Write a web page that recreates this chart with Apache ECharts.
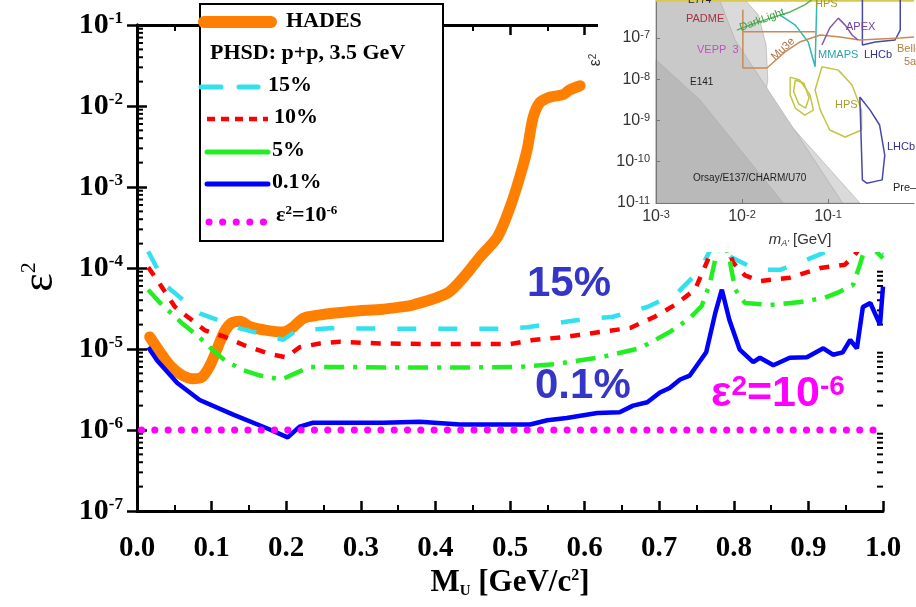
<!DOCTYPE html>
<html>
<head>
<meta charset="utf-8">
<script src="https://cdn.jsdelivr.net/npm/echarts@6/dist/echarts.min.js"></script>
<style>
html,body{margin:0;padding:0;background:#fff}
#main{width:916px;height:607px}
</style>
</head>
<body>
<div id="main"></div>
<script>
// HADES upper limit and PHSD p+p 3.5 GeV curves (M_U in GeV/c2, eps^2)
var hadesMass = [0.017,0.031,0.044,0.058,0.074,0.087,0.098,0.107,0.117,0.127,0.138,0.151,0.174,0.196,0.209,0.223,0.241,0.286,0.330,0.353,0.370,0.416,0.440,0.460,0.483,0.500,0.513,0.523,0.531,0.540,0.554,0.571,0.580,0.594];
var hadesEps  = [1.41e-5,9.1e-6,6.3e-6,4.9e-6,4.3e-6,4.5e-6,6.3e-6,9.8e-6,1.62e-5,2.1e-5,2.2e-5,1.9e-5,1.7e-5,1.62e-5,1.86e-5,2.4e-5,2.6e-5,2.9e-5,3.1e-5,3.3e-5,3.5e-5,4.9e-5,8.1e-5,1.38e-4,2.4e-4,5.6e-4,1.32e-3,2.9e-3,7.2e-3,1.1e-2,1.29e-2,1.38e-2,1.58e-2,1.78e-2];

var p15Mass = [0.015,0.040,0.084,0.138,0.196,0.214,0.259,0.353,0.433,0.496,0.523,0.594,0.638,0.684,0.725,0.755,0.775,0.788,0.795,0.831,0.862,0.889,0.929,0.969,1.0];
var p15Eps  = [1.6e-4,5.9e-5,2.75e-5,1.8e-5,1.3e-5,1.7e-5,1.8e-5,1.78e-5,1.78e-5,1.78e-5,1.86e-5,2.3e-5,2.5e-5,3.3e-5,5.0e-5,9.5e-5,2.2e-4,3.9e-4,1.38e-4,9.5e-5,9.5e-5,1.17e-4,1.66e-4,2.2e-4,1.45e-4];

var p10Mass = [0.015,0.027,0.051,0.091,0.118,0.143,0.178,0.200,0.218,0.245,0.272,0.326,0.406,0.500,0.531,0.574,0.621,0.661,0.694,0.721,0.748,0.768,0.782,0.799,0.815,0.835,0.875,0.916,0.949,0.962,0.976,0.996];
var p10Eps  = [1.02e-4,7.1e-5,3.3e-5,1.7e-5,1.41e-5,1.12e-5,8.7e-6,7.9e-6,1.05e-5,1.17e-5,1.23e-5,1.17e-5,1.15e-5,1.15e-5,1.29e-5,1.41e-5,1.62e-5,1.82e-5,2.5e-5,3.5e-5,5.4e-5,1.45e-4,3.4e-4,1.17e-4,8.1e-5,6.9e-5,7.6e-5,1.0e-4,1.1e-4,1.45e-4,2.2e-4,1.45e-4];

var p5Mass = [0.015,0.031,0.060,0.083,0.101,0.118,0.142,0.165,0.194,0.212,0.232,0.286,0.353,0.433,0.513,0.560,0.621,0.674,0.714,0.741,0.757,0.768,0.775,0.784,0.795,0.802,0.815,0.849,0.889,0.922,0.940,0.960,0.969,0.977,0.989,1.0];
var p5Eps  = [5.4e-5,3.7e-5,2.1e-5,1.41e-5,9.8e-6,7.2e-6,5.5e-6,4.7e-6,4.2e-6,5.0e-6,6.0e-6,6.0e-6,5.9e-6,5.9e-6,6.0e-6,6.5e-6,7.9e-6,1.02e-5,1.62e-5,2.4e-5,3.4e-5,6.5e-5,1.26e-4,2.95e-4,1.17e-4,5.4e-5,3.7e-5,3.5e-5,3.8e-5,4.3e-5,5.0e-5,6.2e-5,1.1e-4,1.9e-4,1.66e-4,1.32e-4];

var p01Mass = [0.015,0.027,0.054,0.084,0.129,0.174,0.202,0.218,0.236,0.286,0.330,0.379,0.433,0.487,0.527,0.550,0.576,0.617,0.647,0.665,0.684,0.701,0.714,0.728,0.741,0.763,0.775,0.784,0.794,0.808,0.826,0.835,0.853,0.875,0.898,0.920,0.933,0.946,0.956,0.965,0.973,0.983,0.996,1.0];
var p01Eps  = [1.05e-5,7.2e-6,3.8e-6,2.35e-6,1.55e-6,1.05e-6,8.1e-7,1.1e-6,1.23e-6,1.23e-6,1.23e-6,1.26e-6,1.17e-6,1.17e-6,1.17e-6,1.32e-6,1.41e-6,1.62e-6,1.66e-6,2.0e-6,2.2e-6,2.9e-6,3.3e-6,4.2e-6,4.7e-6,9.1e-6,2.75e-5,5.4e-5,2.3e-5,9.8e-6,6.9e-6,7.8e-6,6.3e-6,7.8e-6,7.9e-6,1.02e-5,8.5e-6,9.1e-6,1.29e-5,1.02e-5,3.3e-5,3.7e-5,2.0e-5,5.9e-5];

var limitMass = [0.006, 1.0];
var limitEps  = [1e-6, 1e-6];

// minor ticks of the log axis: 2..9 x 10^n
var minorDecades = [-7,-6,-5,-4,-3,-2];
var minorSteps = [2,3,4,5,6,7,8,9];

// inset (dark photon exclusion plot), shapes in [log10 m, log10 eps^2]
var insetGrayLight = [[-3,-6.08],[-1.965,-6.08],[-1.81,-6.44],[-1.72,-7.17],[-1.70,-8.02],[-1.73,-8.43],[-0.63,-11],[-3,-11]];
var insetGrayMid   = [[-3,-6.08],[-2.26,-6.08],[-2.08,-7.05],[-0.83,-11],[-3,-11]];
var insetGrayDark  = [[-3,-7.53],[-2.49,-8.50],[-1.52,-11],[-3,-11]];
var insetHpsBig    = [[-1.07,-7.70],[-0.88,-7.78],[-0.72,-8.14],[-0.61,-8.75],[-0.61,-9.23],[-0.80,-9.40],[-0.98,-9.23],[-1.09,-8.75],[-1.15,-8.26],[-1.07,-7.70]];
var insetHpsSmall  = [[-1.44,-7.95],[-1.33,-8.02],[-1.21,-8.38],[-1.17,-8.75],[-1.27,-8.87],[-1.38,-8.70],[-1.44,-8.38],[-1.44,-7.95]];
var insetHpsInner  = [[-1.38,-8.02],[-1.28,-8.10],[-1.22,-8.45],[-1.26,-8.70],[-1.34,-8.60],[-1.40,-8.30],[-1.38,-8.02]];
var insetLhcbLow   = [[-0.63,-8.43],[-0.60,-10.44],[-0.55,-10.52],[-0.37,-10.44],[-0.34,-9.84],[-0.40,-9.11],[-0.51,-8.75],[-0.63,-8.43]];
var insetLhcbHigh  = [[-0.60,-6.08],[-0.60,-7.17],[-0.45,-7.10],[-0.22,-7.05],[-0.16,-6.81],[-0.16,-6.08]];
var insetMmaps     = [[-1.56,-6.44],[-1.38,-6.69],[-1.23,-7.10],[-1.15,-7.70],[-1.13,-6.08]];
var insetMu3e      = [[-1.99,-6.32],[-1.99,-7.73],[-1.71,-7.73],[-1.50,-7.34],[-1.33,-7.10],[-1.09,-6.93],[-0.86,-6.98],[-0.63,-7.05],[-0.16,-7.00],[0,-6.98]];
var insetMu3eTop   = [[-1.99,-6.85],[-1.15,-6.85]];
var insetDarkLight = [[-2.06,-6.81],[-1.91,-6.69],[-1.67,-6.52],[-1.44,-6.37],[-1.27,-6.20],[-1.19,-6.08]];
var insetApex      = [[-1.07,-7.17],[-0.98,-6.76],[-0.88,-6.52],[-0.80,-6.69],[-0.72,-6.93],[-0.65,-7.05]];
var insetTop       = [[-3,-6.10],[0,-6.10]];

var serif = "'Liberation Serif','DejaVu Serif',serif";
var sans = "'Liberation Sans',Arial,sans-serif";

function pairs(xs, ys) { return xs.map(function (x, i) { return [x, ys[i]]; }); }
function fromLog(pts) { return pts.map(function (p) { return [Math.pow(10, p[0]), Math.pow(10, p[1])]; }); }

var minorVals = [];
minorDecades.forEach(function (d) {
  minorSteps.forEach(function (m) { minorVals.push([0, m * Math.pow(10, d)]); });
});

var chart = echarts.init(document.getElementById('main'));

function expLabel(v) {
  var e = Math.round(Math.log10(v));
  return '{b|10}{s|' + e + '}';
}

var mainTick = { show: true, inside: true, length: 10, lineStyle: { color: '#000', width: 2.5 } };
var mainLine = { show: true, lineStyle: { color: '#000', width: 3 } };

function insetLine(pts, color, w) {
  return {
    type: 'line', xAxisIndex: 2, yAxisIndex: 2, data: fromLog(pts), showSymbol: false,
    silent: true, z: 11, lineStyle: { color: color, width: w || 1.5 }
  };
}
var insetPolys = [
  { pts: insetGrayLight, fill: '#dadada' },
  { pts: insetGrayMid, fill: '#c9c9c9' },
  { pts: insetGrayDark, fill: '#b9b9b9' }
];

var option = {
  animation: false,
  backgroundColor: '#fff',
  grid: [
    { left: 137, top: 25, width: 746, height: 486, outerBoundsMode: 'none', containLabel: false },
    { left: 656, top: 0, width: 258, height: 203, outerBoundsMode: 'none', containLabel: false }
  ],
  xAxis: [
    {
      type: 'value', gridIndex: 0, min: 0, max: 1, interval: 0.1,
      axisLine: mainLine, axisTick: mainTick,
      minorTick: { show: true, splitNumber: 2, length: 6, lineStyle: { color: '#000', width: 2 } },
      splitLine: { show: false },
      axisLabel: {
        margin: 23, color: '#000', fontFamily: serif, fontWeight: 'bold', fontSize: 29,
        formatter: function (v) { return v.toFixed(1); }
      },
      name: '{b|M}{sub|U}{b| [GeV/c}{sup|2}{b|]}',
      nameLocation: 'middle', nameGap: 53,
      nameTextStyle: {
        rich: {
          b: { fontFamily: serif, fontWeight: 'bold', fontSize: 31, color: '#000' },
          sub: { fontFamily: serif, fontWeight: 'bold', fontSize: 15, color: '#000', verticalAlign: 'bottom', lineHeight: 10 },
          sup: { fontFamily: serif, fontWeight: 'bold', fontSize: 16, color: '#000', verticalAlign: 'top', lineHeight: 14 }
        }
      }
    },
    {
      type: 'value', gridIndex: 0, position: 'top', min: 0, max: 1, interval: 0.1,
      axisLine: mainLine, axisTick: mainTick,
      minorTick: { show: true, splitNumber: 2, length: 6, lineStyle: { color: '#000', width: 2 } },
      splitLine: { show: false }, axisLabel: { show: false }
    },
    {
      type: 'log', gridIndex: 1, min: 0.001, max: 1, interval: 1, z: 10,
      axisLine: { lineStyle: { color: '#777', width: 1 } },
      axisTick: { inside: true, length: 4, lineStyle: { color: '#777' } },
      splitLine: { show: false },
      axisLabel: {
        margin: 6, showMaxLabel: false, formatter: expLabel,
        rich: {
          b: { fontFamily: sans, fontSize: 16, color: '#333' },
          s: { fontFamily: sans, fontSize: 11, color: '#333', verticalAlign: 'top', lineHeight: 11 }
        }
      }
    }
  ],
  yAxis: [
    {
      type: 'log', gridIndex: 0, min: 1e-7, max: 1e-1, interval: 1,
      axisLine: mainLine, axisTick: mainTick, splitLine: { show: false },
      axisLabel: {
        margin: 14, formatter: expLabel,
        rich: {
          b: { fontFamily: serif, fontWeight: 'bold', fontSize: 30, color: '#000' },
          s: { fontFamily: serif, fontWeight: 'bold', fontSize: 17, color: '#000', verticalAlign: 'top', lineHeight: 16 }
        }
      }
    },
    {
      type: 'log', gridIndex: 0, position: 'right', min: 1e-7, max: 1e-1, interval: 1,
      axisLine: mainLine, axisTick: mainTick, splitLine: { show: false }, axisLabel: { show: false }
    },
    {
      type: 'log', gridIndex: 1, min: 1e-11, max: 8.3e-7, interval: 1, z: 10,
      axisLine: { lineStyle: { color: '#777', width: 1 } },
      axisTick: { inside: true, length: 4, lineStyle: { color: '#777' } },
      splitLine: { show: false },
      axisLabel: {
        margin: 6, showMaxLabel: false, formatter: expLabel,
        rich: {
          b: { fontFamily: sans, fontSize: 16, color: '#333' },
          s: { fontFamily: sans, fontSize: 11, color: '#333', verticalAlign: 'top', lineHeight: 11 }
        }
      }
    }
  ],
  series: [
    {
      name: 'minor ticks', type: 'custom', xAxisIndex: 0, yAxisIndex: 0, data: minorVals, clip: false, silent: true,
      renderItem: function (params, api) {
        var v = api.value(1);
        var pl = api.coord([0, v]);
        var pr = api.coord([1, v]);
        return {
          type: 'group', children: [
            { type: 'line', shape: { x1: pl[0], y1: pl[1], x2: pl[0] + 6, y2: pl[1] }, style: { stroke: '#000', lineWidth: 2 } },
            { type: 'line', shape: { x1: pr[0], y1: pr[1], x2: pr[0] - 6, y2: pr[1] }, style: { stroke: '#000', lineWidth: 2 } }
          ]
        };
      }
    },
    {
      name: 'HADES', type: 'line', data: pairs(hadesMass, hadesEps), showSymbol: false, smooth: 0.3,
      lineStyle: { color: '#ff7f00', width: 11, cap: 'round', join: 'round' }
    },
    {
      name: '15%', type: 'line', data: pairs(p15Mass, p15Eps), showSymbol: false,
      lineStyle: { color: '#33e0ee', width: 4.5, type: [19, 22] }
    },
    {
      name: '10%', type: 'line', data: pairs(p10Mass, p10Eps), showSymbol: false,
      lineStyle: { color: '#ff0000', width: 4.5, type: [10, 10] }
    },
    {
      name: '5%', type: 'line', data: pairs(p5Mass, p5Eps), showSymbol: false,
      lineStyle: { color: '#22ee22', width: 4.5, type: [20, 9, 4, 9] }
    },
    {
      name: '0.1%', type: 'line', data: pairs(p01Mass, p01Eps), showSymbol: false,
      lineStyle: { color: '#0000ff', width: 4.5 }
    },
    {
      name: 'eps2=1e-6', type: 'line', data: pairs(limitMass, limitEps), showSymbol: false,
      lineStyle: { color: '#ff00ff', width: 7, type: [0.1, 13.2], cap: 'round' }
    },
    {
      name: 'inset areas', type: 'custom', xAxisIndex: 2, yAxisIndex: 2, z: 10, silent: true,
      data: insetPolys.map(function (p) { return fromLog(p.pts)[0]; }),
      renderItem: function (params, api) {
        var poly = insetPolys[params.dataIndex];
        var pts = fromLog(poly.pts).map(function (p) { return api.coord(p); });
        return { type: 'polygon', shape: { points: pts }, style: { fill: poly.fill, stroke: '#aaa', lineWidth: 0.6 } };
      }
    },
    insetLine(insetTop, '#d8c850', 2),
    insetLine(insetHpsBig, '#c4c444'),
    insetLine(insetHpsSmall, '#c4c444'),
    insetLine(insetHpsInner, '#c4c444'),
    insetLine(insetLhcbLow, '#4848a8'),
    insetLine(insetLhcbHigh, '#4848a8'),
    insetLine(insetMmaps, '#30b8b8'),
    insetLine(insetMu3e, '#c98a55'),
    insetLine(insetMu3eTop, '#c98a55'),
    insetLine(insetDarkLight, '#55b455'),
    insetLine(insetApex, '#8a55a8')
  ],
  graphic: [
    // y axis title
    {
      type: 'text', x: 40, y: 277, rotation: Math.PI / 2, z: 6,
      style: {
        text: '{e|ε}{sup|2}', align: 'center', verticalAlign: 'middle',
        rich: {
          e: { fontFamily: serif, fontSize: 44, fill: '#000' },
          sup: { fontFamily: serif, fontSize: 22, fill: '#000', verticalAlign: 'top', lineHeight: 20 }
        }
      }
    },
    // white backing of the inset picture
    { type: 'rect', left: 598, top: 0, z: 5, shape: { width: 318, height: 252 }, style: { fill: '#fff' } },
    // inset texts
    { type: 'text', left: 688, top: -5, z: 12, style: { text: 'E774', fontSize: 10, fontFamily: sans, fill: '#222' } },
    { type: 'text', left: 686, top: 13, z: 12, style: { text: 'PADME', fontSize: 11, fontFamily: sans, fill: '#a83240' } },
    { type: 'text', left: 697, top: 44, z: 12, style: { text: 'VEPP  3', fontSize: 11, fontFamily: sans, fill: '#c050c0' } },
    { type: 'text', left: 690, top: 77, z: 12, style: { text: 'E141', fontSize: 10, fontFamily: sans, fill: '#222' } },
    { type: 'text', left: 693, top: 173, z: 12, style: { text: 'Orsay/E137/CHARM/U70', fontSize: 10, fontFamily: sans, fill: '#222' } },
    { type: 'text', x: 762, y: 20, rotation: 0.35, z: 12, style: { text: 'DarkLight', fontSize: 11, fontFamily: sans, fill: '#40a040', align: 'center', verticalAlign: 'middle' } },
    { type: 'text', x: 783, y: 49, rotation: 0.75, z: 12, style: { text: 'Mu3e', fontSize: 11, fontFamily: sans, fill: '#b07040', align: 'center', verticalAlign: 'middle' } },
    { type: 'text', left: 818, top: 49, z: 12, style: { text: 'MMAPS', fontSize: 11, fontFamily: sans, fill: '#30a0a8' } },
    { type: 'text', left: 864, top: 49, z: 12, style: { text: 'LHCb', fontSize: 11, fontFamily: sans, fill: '#303090' } },
    { type: 'text', left: 846, top: 21, z: 12, style: { text: 'APEX', fontSize: 11, fontFamily: sans, fill: '#7040a0' } },
    { type: 'text', left: 815, top: -2, z: 12, style: { text: 'HPS', fontSize: 11, fontFamily: sans, fill: '#a0a030' } },
    { type: 'text', left: 835, top: 99, z: 12, style: { text: 'HPS', fontSize: 11, fontFamily: sans, fill: '#a0a030' } },
    { type: 'text', left: 887, top: 141, z: 12, style: { text: 'LHCb', fontSize: 11, fontFamily: sans, fill: '#303090' } },
    { type: 'text', left: 897, top: 43, z: 12, style: { text: 'Belle', fontSize: 11, fontFamily: sans, fill: '#b08040' } },
    { type: 'text', left: 904, top: 56, z: 12, style: { text: '5ab', fontSize: 11, fontFamily: sans, fill: '#b08040' } },
    { type: 'text', left: 893, top: 182, z: 12, style: { text: 'Pre–', fontSize: 11, fontFamily: sans, fill: '#222' } },
    {
      type: 'text', x: 800, y: 240, z: 12,
      style: {
        text: '{i|m}{sub|A\'} [GeV]', align: 'center', verticalAlign: 'middle', fontSize: 15, fontFamily: sans, fill: '#333',
        rich: { i: { fontStyle: 'italic', fontSize: 15, fontFamily: sans, fill: '#333' }, sub: { fontStyle: 'italic', fontSize: 9, fontFamily: sans, fill: '#333', verticalAlign: 'bottom', lineHeight: 10 } }
      }
    },
    {
      type: 'text', x: 596, y: 60, rotation: Math.PI / 2, z: 12,
      style: {
        text: '{e|ε}{s|2}', align: 'center', verticalAlign: 'middle',
        rich: { e: { fontSize: 16, fontFamily: sans, fill: '#333' }, s: { fontSize: 10, fontFamily: sans, fill: '#333', verticalAlign: 'top', lineHeight: 10 } }
      }
    },
    // legend box
    { type: 'rect', left: 199, top: 3, z: 5, shape: { width: 243, height: 237 }, style: { fill: '#fff', stroke: '#000', lineWidth: 2 } },
    { type: 'line', z: 6, shape: { x1: 204, y1: 22, x2: 271, y2: 22 }, style: { stroke: '#ff7f00', lineWidth: 12, lineCap: 'round' } },
    { type: 'text', left: 286, top: 10, z: 6, style: { text: 'HADES', fontSize: 22, fontWeight: 'bold', fontFamily: serif, fill: '#000' } },
    { type: 'text', left: 210, top: 42, z: 6, style: { text: 'PHSD: p+p, 3.5 GeV', fontSize: 22, fontWeight: 'bold', fontFamily: serif, fill: '#000' } },
    { type: 'line', z: 6, shape: { x1: 201, y1: 87, x2: 258, y2: 87 }, style: { stroke: '#33e0ee', lineWidth: 5, lineDash: [20, 18], lineCap: 'round' } },
    { type: 'text', left: 268, top: 74, z: 6, style: { text: '15%', fontSize: 22, fontWeight: 'bold', fontFamily: serif, fill: '#000' } },
    { type: 'line', z: 6, shape: { x1: 207, y1: 119, x2: 268, y2: 119 }, style: { stroke: '#ff0000', lineWidth: 4.5, lineDash: [8, 6] } },
    { type: 'text', left: 274, top: 106, z: 6, style: { text: '10%', fontSize: 22, fontWeight: 'bold', fontFamily: serif, fill: '#000' } },
    { type: 'line', z: 6, shape: { x1: 207, y1: 152, x2: 268, y2: 152 }, style: { stroke: '#22ee22', lineWidth: 5, lineCap: 'round' } },
    { type: 'text', left: 272, top: 139, z: 6, style: { text: '5%', fontSize: 22, fontWeight: 'bold', fontFamily: serif, fill: '#000' } },
    { type: 'line', z: 6, shape: { x1: 207, y1: 184, x2: 268, y2: 184 }, style: { stroke: '#0000ff', lineWidth: 5, lineCap: 'round' } },
    { type: 'text', left: 272, top: 171, z: 6, style: { text: '0.1%', fontSize: 22, fontWeight: 'bold', fontFamily: serif, fill: '#000' } },
    { type: 'line', z: 6, shape: { x1: 209, y1: 222, x2: 266, y2: 222 }, style: { stroke: '#ff00ff', lineWidth: 7, lineDash: [0.1, 13.5], lineCap: 'round' } },
    {
      type: 'text', left: 276, top: 204, z: 6,
      style: {
        text: '{b|ε}{s|2}{b|=10}{s|-6}',
        rich: {
          b: { fontSize: 22, fontWeight: 'bold', fontFamily: serif, fill: '#000' },
          s: { fontSize: 13, fontWeight: 'bold', fontFamily: serif, fill: '#000', verticalAlign: 'top', lineHeight: 12 }
        }
      }
    },
    // curve annotations
    { type: 'text', left: 527, top: 263, z: 6, style: { text: '15%', fontSize: 42, fontWeight: 'bold', fontFamily: sans, fill: '#3535c8' } },
    { type: 'text', left: 535, top: 365, z: 6, style: { text: '0.1%', fontSize: 42, fontWeight: 'bold', fontFamily: sans, fill: '#3535c8' } },
    {
      type: 'text', left: 711, top: 373, z: 6,
      style: {
        text: '{b|ε}{s|2}{b|=10}{s|-6}',
        rich: {
          b: { fontSize: 43, fontWeight: 'bold', fontFamily: sans, fill: '#ff00ff' },
          s: { fontSize: 28, fontWeight: 'bold', fontFamily: sans, fill: '#ff00ff', verticalAlign: 'top', lineHeight: 24 }
        }
      }
    }
  ]
};

chart.setOption(option);
</script>
</body>
</html>
